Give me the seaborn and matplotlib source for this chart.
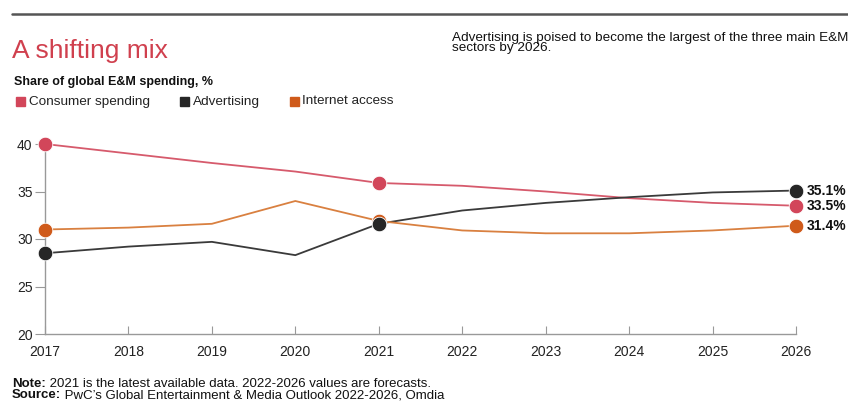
import matplotlib
matplotlib.use("Agg")
import matplotlib.pyplot as plt
import seaborn as sns
import pandas as pd
from matplotlib.lines import Line2D
from matplotlib.patches import Rectangle

years = [2017, 2018, 2019, 2020, 2021, 2022, 2023, 2024, 2025, 2026]
consumer = [40.0, 39.0, 38.0, 37.1, 35.9, 35.6, 35.0, 34.3, 33.8, 33.5]
advertising = [28.5, 29.2, 29.7, 28.3, 31.6, 33.0, 33.8, 34.4, 34.9, 35.1]
internet = [31.0, 31.2, 31.6, 34.0, 31.9, 30.9, 30.6, 30.6, 30.9, 31.4]
series_names = ["Consumer spending", "Advertising", "Internet access"]
marker_years = [2017, 2021, 2026]
end_labels = ["33.5%", "35.1%", "31.4%"]
y_ticks = [20, 25, 30, 35, 40]

colors = {"Consumer spending": "#d2465a", "Advertising": "#262626", "Internet access": "#cf5a1a"}
line_colors = {"Consumer spending": "#d65a6c", "Advertising": "#3a3a3a", "Internet access": "#d98040"}

df = pd.DataFrame({
    "year": years * 3,
    "value": consumer + advertising + internet,
    "series": sum([[s] * len(years) for s in series_names], []),
})

sns.set_theme(style="white")
plt.rcParams["font.family"] = ["Liberation Sans", "DejaVu Sans"]

W, H = 848, 418
fig = plt.figure(figsize=(8.48, 4.18), dpi=100)
ax = fig.add_axes([45 / W, 1 - 334 / H, (796 - 45) / W, (334 - 144) / H])

sns.lineplot(data=df, x="year", y="value", hue="series", palette=line_colors,
             linewidth=1.3, legend=False, ax=ax, zorder=2)

mk = df[df["year"].isin(marker_years)]
order = ["Internet access", "Consumer spending", "Advertising"]
for s in order:
    sub = mk[mk["series"] == s]
    ax.scatter(sub["year"], sub["value"], s=110, color=colors[s], zorder=4,
               clip_on=False, edgecolor="white", linewidth=0.6)

for s, lab in zip(series_names, end_labels):
    v = df[(df["series"] == s) & (df["year"] == years[-1])]["value"].iloc[0]
    ax.text(years[-1] + 0.13, v, lab, fontsize=10, fontweight="bold",
            va="center", ha="left", color="#111111")

ax.set_xlim(years[0], years[-1])
ax.set_ylim(20, 40)
ax.set_xticks(years)
ax.set_yticks(y_ticks)
ax.set_xlabel("")
ax.set_ylabel("")
for sp in ["top", "right"]:
    ax.spines[sp].set_visible(False)
for sp in ["left", "bottom"]:
    ax.spines[sp].set_color("#999999")
    ax.spines[sp].set_linewidth(1.0)
ax.tick_params(axis="y", direction="out", length=7, width=0.8, color="#999999",
               labelsize=10, labelcolor="#222222", pad=2, left=True)
ax.tick_params(axis="x", direction="in", length=6, width=0.8, color="#999999",
               labelsize=10, labelcolor="#222222", pad=8, bottom=True)
ax.set_facecolor("none")

# top rule
fig.add_artist(Line2D([12 / W, 1.0], [1 - 14 / H, 1 - 14 / H], color="#555555",
                      linewidth=1.8, transform=fig.transFigure))

fig.text(12 / W, 1 - 51 / H, "A shifting mix", fontsize=19, color="#d0404e",
         va="center", ha="left")
fig.text(14 / W, 1 - 82 / H, "Share of global E&M spending, %", fontsize=9,
         fontweight="bold", va="center", ha="left", color="#111111")

leg_items = [("Consumer spending", 16, 29), ("Advertising", 180, 193), ("Internet access", 290, 302)]
for s, xs, xt in leg_items:
    fig.add_artist(Rectangle((xs / W, 1 - 106 / H), 9 / W, 9 / H, color=colors[s],
                             transform=fig.transFigure))
    fig.text(xt / W, 1 - 101.5 / H, s, fontsize=9.7, va="center", ha="left",
             color="#222222")

fig.text(452 / W, 1 - 32 / H,
         "Advertising is poised to become the largest of the three main E&M\nsectors by 2026.",
         fontsize=9.7, va="top", ha="left", color="#111111", linespacing=0.78)

fig.canvas.draw()
renderer = fig.canvas.get_renderer()
foot = [("Note:", " 2021 is the latest available data. 2022-2026 values are forecasts.", 387),
        ("Source:", " PwC\u2019s Global Entertainment & Media Outlook 2022-2026, Omdia", 398)]
for b, r, y in foot:
    t = fig.text(12 / W, 1 - y / H, b, fontsize=9.5, fontweight="bold", va="baseline",
                 ha="left", color="#111111")
    bb = t.get_window_extent(renderer)
    fig.text(bb.x1 / W, 1 - y / H, r, fontsize=9.5, va="baseline", ha="left", color="#111111")

fig.savefig("out.png", dpi=100, facecolor="white")
